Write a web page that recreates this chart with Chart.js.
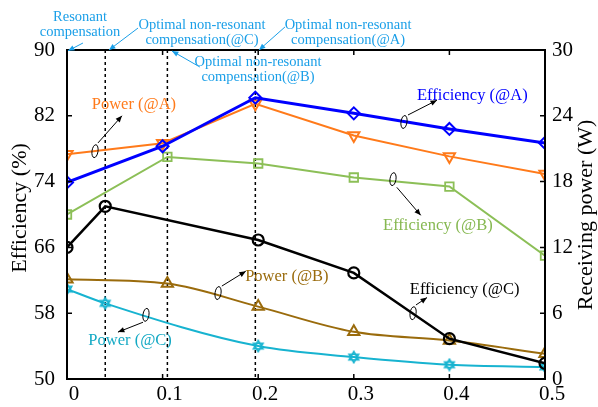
<!DOCTYPE html>
<html>
<head>
<meta charset="utf-8">
<script src="https://cdn.jsdelivr.net/npm/chart.js@4"></script>
<style>
  html, body { margin: 0; padding: 0; background: #fff; }
  #wrap { width: 598px; height: 407px; }
</style>
</head>
<body>
<div id="wrap"><canvas id="chart" width="598" height="407"></canvas></div>
<script>
// x positions (compensation parameter) for each group
const xA = [0, 0.1, 0.197, 0.3, 0.4, 0.5];
const xB = [0, 0.105, 0.2, 0.3, 0.4, 0.5];
const xC = [0, 0.04, 0.2, 0.3, 0.4, 0.5];

// efficiency (%) on left axis, power (W) on right axis
const effA = [73.9, 78.3, 84.2, 82.3, 80.4, 78.7];
const powA = [20.5, 21.5, 25.1, 22.2, 20.3, 18.7];
const effB = [70.0, 77.0, 76.2, 74.5, 73.4, 65.0];
const powB = [9.1, 8.7, 6.6, 4.3, 3.5, 2.3];
const effC = [66.0, 71.0, 66.9, 62.9, 54.9, 51.9];
const powC = [8.2, 6.9, 3.0, 2.0, 1.3, 1.1];

const optimalX = [0.04, 0.105, 0.197];
const xTicks = [0, 0.1, 0.2, 0.3, 0.4, 0.5];
const effTicks = [50, 58, 66, 74, 82, 90];
const powTicks = [0, 6, 12, 18, 24, 30];

const SERIF = "'Liberation Serif', 'DejaVu Serif', serif";
const TOPBLUE = "#1a9fe8";

// series labels, in (x, efficiency) data units
const seriesNotes = [
    { text: "Power (@A)", color: "#ff7a1a", at: [0.070, 83.3], ell: [0.0293, 77.7], from: [0.0324, 78.7], to: [0.0575, 82.0] },
    { text: "Efficiency (@A)", color: "#0000ff", at: [0.424, 84.5], ell: [0.3525, 81.25], from: [0.3567, 82.1], to: [0.387, 83.9] },
    { text: "Efficiency (@B)", color: "#86b851", at: [0.388, 68.6], ell: [0.341, 74.3], from: [0.345, 73.3], to: [0.370, 69.9] },
    { text: "Efficiency (@C)", color: "#000000", at: [0.416, 60.8], ell: [0.362, 58.0], from: [0.365, 59.0], to: [0.3766, 59.9] },
    { text: "Power (@B)", color: "#9a6b0c", at: [0.230, 62.5], ell: [0.158, 60.45], from: [0.162, 61.3], to: [0.187, 63.1] },
    { text: "Power (@C)", color: "#14a9c4", at: [0.066, 54.6], ell: [0.0826, 57.8], from: [0.0795, 56.9], to: [0.0533, 55.7] }
];

// compensation labels above the plot
const topNotes = [
    { lines: ["Resonant", "compensation"], at: [0.0136, 94.0], from: [0.0167, 90.85], to: [0.001, 89.9] },
    { lines: ["Optimal non-resonant", "compensation(@C)"], at: [0.1412, 93.0], from: [0.0743, 92.67], to: [0.0439, 90.0] },
    { lines: ["Optimal non-resonant", "compensation(@A)"], at: [0.294, 93.0], from: [0.228, 92.8], to: [0.2008, 90.0] },
    { lines: ["Optimal non-resonant", "compensation(@B)"], at: [0.1998, 88.5], from: [0.139, 87.93], to: [0.1098, 89.88] }
];

function points(xs, ys) {
    return xs.map((x, i) => ({ x, y: ys[i] }));
}

function hexagram(color) {
    const c = document.createElement("canvas");
    c.width = 14; c.height = 14;
    const g = c.getContext("2d");
    g.strokeStyle = color;
    g.lineWidth = 1.6;
    [0, Math.PI].forEach(off => {
        g.beginPath();
        for (let k = 0; k < 3; k++) {
            const a = off - Math.PI / 2 + k * 2 * Math.PI / 3;
            const px = 7 + 5.5 * Math.cos(a), py = 7 + 5.5 * Math.sin(a);
            k ? g.lineTo(px, py) : g.moveTo(px, py);
        }
        g.closePath();
        g.stroke();
    });
    return c;
}

function arrow(ctx, x1, y1, x2, y2, color) {
    ctx.save();
    ctx.strokeStyle = color;
    ctx.fillStyle = color;
    ctx.lineWidth = 1;
    ctx.beginPath();
    ctx.moveTo(x1, y1);
    ctx.lineTo(x2, y2);
    ctx.stroke();
    const a = Math.atan2(y2 - y1, x2 - x1);
    ctx.beginPath();
    ctx.moveTo(x2, y2);
    ctx.lineTo(x2 - 7 * Math.cos(a - 0.4), y2 - 7 * Math.sin(a - 0.4));
    ctx.lineTo(x2 - 7 * Math.cos(a + 0.4), y2 - 7 * Math.sin(a + 0.4));
    ctx.closePath();
    ctx.fill();
    ctx.restore();
}

const decorations = {
    id: "decorations",
    beforeDatasetsDraw(chart) {
        const { ctx, chartArea: a, scales } = chart;
        ctx.save();
        ctx.strokeStyle = "#000";
        ctx.lineWidth = 1.5;
        ctx.setLineDash([3, 3]);
        optimalX.forEach(v => {
            const px = scales.x.getPixelForValue(v);
            ctx.beginPath();
            ctx.moveTo(px, a.top);
            ctx.lineTo(px, a.bottom);
            ctx.stroke();
        });
        ctx.restore();
    },
    afterDraw(chart) {
        const { ctx, chartArea: a, scales } = chart;
        const X = v => scales.x.getPixelForValue(v);
        const Y = v => scales.y.getPixelForValue(v);

        // frame and inward ticks
        ctx.save();
        ctx.strokeStyle = "#000";
        ctx.lineWidth = 2;
        ctx.strokeRect(a.left, a.top, a.right - a.left, a.bottom - a.top);
        ctx.lineWidth = 1.5;
        ctx.beginPath();
        xTicks.forEach(v => {
            const px = X(v);
            ctx.moveTo(px, a.bottom); ctx.lineTo(px, a.bottom - 5);
            ctx.moveTo(px, a.top); ctx.lineTo(px, a.top + 5);
        });
        effTicks.forEach(v => {
            const py = Y(v);
            ctx.moveTo(a.left, py); ctx.lineTo(a.left + 5, py);
        });
        powTicks.forEach(v => {
            const py = scales.y2.getPixelForValue(v);
            ctx.moveTo(a.right, py); ctx.lineTo(a.right - 5, py);
        });
        ctx.stroke();

        // axis titles
        ctx.fillStyle = "#000";
        ctx.font = `22px ${SERIF}`;
        ctx.textAlign = "center";
        ctx.textBaseline = "middle";
        ctx.save();
        ctx.translate(20, 208);
        ctx.rotate(-Math.PI / 2);
        ctx.fillText("Efficiency (%)", 0, 0);
        ctx.restore();
        ctx.save();
        ctx.translate(586, 215);
        ctx.rotate(-Math.PI / 2);
        ctx.fillText("Receiving power (W)", 0, 0);
        ctx.restore();

        // series labels with ellipse markers and arrows
        ctx.font = `16.5px ${SERIF}`;
        seriesNotes.forEach(n => {
            ctx.fillStyle = n.color;
            ctx.fillText(n.text, X(n.at[0]), Y(n.at[1]));
            ctx.strokeStyle = "#000";
            ctx.lineWidth = 1;
            ctx.beginPath();
            ctx.ellipse(X(n.ell[0]), Y(n.ell[1]), 3, 6.5, 0.15, 0, Math.PI * 2);
            ctx.stroke();
            arrow(ctx, X(n.from[0]), Y(n.from[1]), X(n.to[0]), Y(n.to[1]), "#000");
        });

        // compensation labels
        ctx.fillStyle = TOPBLUE;
        ctx.font = `14.5px ${SERIF}`;
        topNotes.forEach(n => {
            n.lines.forEach((line, i) => {
                ctx.fillText(line, X(n.at[0]), Y(n.at[1]) + i * 15);
            });
            arrow(ctx, X(n.from[0]), Y(n.from[1]), X(n.to[0]), Y(n.to[1]), TOPBLUE);
        });
        ctx.restore();
    }
};

const tickFont = { family: SERIF, size: 21 };

new Chart(document.getElementById("chart"), {
    type: "scatter",
    data: {
        datasets: [
            { label: "Efficiency (@A)", data: points(xA, effA), yAxisID: "y", borderColor: "#0000ff", borderWidth: 3,
              pointStyle: "rectRot", pointRadius: 6, pointBorderWidth: 2, pointBorderColor: "#0000ff", pointBackgroundColor: "rgba(0,0,0,0)" },
            { label: "Power (@A)", data: points(xA, powA), yAxisID: "y2", borderColor: "#ff7a1a", borderWidth: 2,
              pointStyle: "triangle", pointRotation: 180, pointRadius: 6.5, pointBorderWidth: 2, pointBorderColor: "#ff7a1a", pointBackgroundColor: "rgba(0,0,0,0)" },
            { label: "Efficiency (@B)", data: points(xB, effB), yAxisID: "y", borderColor: "#8cbf57", borderWidth: 2,
              pointStyle: "rect", pointRadius: 6, pointBorderWidth: 1.8, pointBorderColor: "#8cbf57", pointBackgroundColor: "rgba(0,0,0,0)" },
            { label: "Efficiency (@C)", data: points(xC, effC), yAxisID: "y", borderColor: "#000000", borderWidth: 2.5,
              pointStyle: "circle", pointRadius: 5.5, pointBorderWidth: 2.2, pointBorderColor: "#000000", pointBackgroundColor: "rgba(0,0,0,0)" },
            { label: "Power (@B)", data: points(xB, powB), yAxisID: "y2", borderColor: "#9a6b0c", borderWidth: 2,
              cubicInterpolationMode: "monotone",
              pointStyle: "triangle", pointRadius: 6.5, pointBorderWidth: 2, pointBorderColor: "#9a6b0c", pointBackgroundColor: "rgba(0,0,0,0)" },
            { label: "Power (@C)", data: points(xC, powC), yAxisID: "y2", borderColor: "#17b3d0", borderWidth: 2,
              cubicInterpolationMode: "monotone",
              pointStyle: hexagram("#17b3d0"), pointRadius: 6 }
        ]
    },
    options: {
        responsive: false,
        animation: false,
        showLine: true,
        layout: { padding: { top: 50, left: 0, right: 0, bottom: 0 } },
        plugins: { legend: { display: false }, tooltip: { enabled: false } },
        scales: {
            x: {
                type: "linear", min: 0, max: 0.5,
                grid: { display: false, drawTicks: false }, border: { display: false },
                afterBuildTicks: s => { s.ticks = xTicks.map(v => ({ value: v })); },
                ticks: { font: tickFont, color: "#000", padding: 3, labelOffset: 7, maxRotation: 0,
                         callback: v => String(Math.round(v * 10) / 10) },
                afterFit: s => { s.height = 28; }
            },
            y: {
                position: "left", min: 50, max: 90,
                grid: { display: false, drawTicks: false }, border: { display: false },
                afterBuildTicks: s => { s.ticks = effTicks.map(v => ({ value: v })); },
                ticks: { font: tickFont, color: "#000", padding: 12 },
                afterFit: s => { s.width = 67; }
            },
            y2: {
                position: "right", min: 0, max: 30,
                grid: { display: false, drawTicks: false }, border: { display: false },
                afterBuildTicks: s => { s.ticks = powTicks.map(v => ({ value: v })); },
                ticks: { font: tickFont, color: "#000", padding: 7 },
                afterFit: s => { s.width = 53; }
            }
        }
    },
    plugins: [decorations]
});
</script>
</body>
</html>
